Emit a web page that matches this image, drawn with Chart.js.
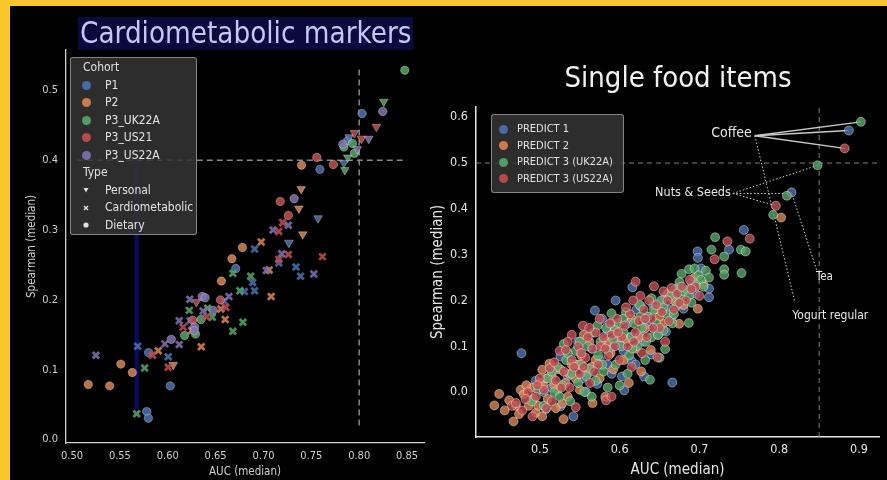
<!DOCTYPE html>
<html lang="en">
<head>
<meta charset="UTF-8">
<title>Cardiometabolic markers / Single food items</title>
<script src="https://cdn.jsdelivr.net/npm/chart.js"></script>
<style>
  body { margin: 0; width: 887px; height: 480px; background: #f9c62c; position: relative; overflow: hidden;
         font-family: 'DejaVu Sans Condensed', 'DejaVu Sans', sans-serif; }
  #panel { position: absolute; left: 10px; top: 6px; width: 877px; height: 474px; background: #000; }
  canvas { position: absolute; top: 0; }
  #leftChart { left: 10px; }
  #rightChart { left: 428px; }
  #leftTitle { position: absolute; left: 78px; top: 17px; height: 33px; line-height: 33px; padding: 0 2px;
               font-size: 29.3px; color: #c6c6f4; background: #0a0a3e; white-space: nowrap; }
  #rightTitle { position: absolute; left: 478px; top: 60px; width: 400px; text-align: center; line-height: 34px;
                font-size: 29px; color: #f2f2f2; white-space: nowrap; }
  .legend { position: absolute; box-sizing: border-box; background: rgba(52,52,52,0.86);
            border: 1px solid rgba(180,180,180,0.65); border-radius: 3px; color: #e2e2e2; }
  #leftLegend { left: 70px; top: 57px; width: 127px; height: 178px; padding-top: 1px; font-size: 12px; }
  #leftLegend .row { height: 17.5px; line-height: 17.5px; display: flex; align-items: center; }
  #leftLegend .head { padding-left: 12px; }
  #leftLegend .mk { width: 10px; height: 10px; margin-left: 10px; margin-right: 14px; display: flex; align-items: center; justify-content: center; }
  #rightLegend { left: 491px; top: 114px; width: 133px; height: 79px; padding-top: 6px; font-size: 11px; }
  #rightLegend .row { height: 16.5px; line-height: 16.5px; display: flex; align-items: center; }
  #rightLegend .mk { width: 10px; height: 10px; margin-left: 6px; margin-right: 9px; display: flex; align-items: center; justify-content: center; }
  .dot { width: 9px; height: 9px; border-radius: 50%; }
</style>
</head>
<body>
<div id="panel"></div>
<canvas id="leftChart" width="418" height="480"></canvas>
<canvas id="rightChart" width="459" height="480"></canvas>
<div id="leftTitle">Cardiometabolic markers</div>
<div id="rightTitle">Single food items</div>
<div id="leftLegend" class="legend"></div>
<div id="rightLegend" class="legend"></div>

<script>
// ---------- Cardiometabolic markers: [AUC, Spearman] ----------
const cohorts = ['P1', 'P2', 'P3_UK22A', 'P3_US21', 'P3_US22A'];
const markerTypes = ['Personal', 'Cardiometabolic', 'Dietary'];

const p1Personal = [[0.7895,0.433],[0.784,0.396],[0.757,0.317],[0.7265,0.282]];
const p1Cardio = [[0.6907,0.273],[0.716,0.253],[0.734,0.247],[0.7387,0.234],[0.6886,0.225],[0.680,0.212],
  [0.6907,0.213],[0.659,0.198],[0.623,0.170],[0.5686,0.1335],[0.6005,0.1187]];
const p1Dietary = [[0.803,0.467],[0.788,0.428],[0.759,0.387],[0.671,0.245],[0.580,0.1245],[0.6026,0.0768],
  [0.578,0.040],[0.5797,0.0305]];

const p2Personal = [[0.7394,0.359],[0.737,0.331],[0.741,0.294],[0.6058,0.107]];
const p2Cardio = [[0.6976,0.283],[0.706,0.243],[0.708,0.205],[0.6555,0.187],[0.660,0.172],[0.625,0.156],
  [0.635,0.133],[0.590,0.127]];
const p2Dietary = [[0.7398,0.393],[0.678,0.275],[0.667,0.259],[0.656,0.227],[0.551,0.108],[0.563,0.096],
  [0.517,0.0787],[0.5393,0.0768]];

const uk22aPersonal = [[0.8257,0.484],[0.788,0.404],[0.785,0.386]];
const uk22aCardio = [[0.668,0.238],[0.6866,0.234],[0.6754,0.213],[0.6416,0.188],[0.6465,0.175],[0.6785,0.168],
  [0.6225,0.185],[0.668,0.155],[0.5759,0.1025],[0.5675,0.037]];
const uk22aDietary = [[0.8476,0.529],[0.793,0.424],[0.784,0.419],[0.795,0.410],[0.6347,0.172],[0.629,0.151],
  [0.6176,0.149]];

const us21Personal = [[0.818,0.448],[0.795,0.439],[0.8024,0.431],[0.630,0.197]];
const us21Cardio = [[0.720,0.311],[0.716,0.298],[0.7616,0.262],[0.726,0.265],[0.716,0.258],[0.6608,0.189],
  [0.6406,0.176],[0.616,0.161],[0.584,0.1206],[0.6005,0.1034]];
const us21Dietary = [[0.7557,0.404],[0.773,0.394],[0.7175,0.341],[0.726,0.321],[0.655,0.200],[0.626,0.171]];

const us22aPersonal = [[0.810,0.431],[0.798,0.416]];
const us22aCardio = [[0.726,0.307],[0.710,0.300],[0.719,0.266],[0.703,0.242],[0.7526,0.237],[0.6639,0.205],
  [0.623,0.201],[0.637,0.184],[0.612,0.170],[0.597,0.137],[0.612,0.136],[0.525,0.1206]];
const us22aDietary = [[0.8246,0.470],[0.783,0.423],[0.732,0.345],[0.636,0.205],[0.639,0.203],[0.6475,0.185],
  [0.628,0.161],[0.6277,0.156],[0.6037,0.1435]];

const cardioXTicks = [0.50, 0.55, 0.60, 0.65, 0.70, 0.75, 0.80, 0.85];
const cardioYTicks = [0.0, 0.1, 0.2, 0.3, 0.4, 0.5];
const cardioHLine = [[0.505, 0.4], [0.85, 0.4]];
const cardioVLine = [[0.8, 0.02], [0.8, 0.535]];
const cardioHighlight = [[0.5675, 0.043], [0.5675, 0.4]];

// ---------- Single food items: [AUC, Spearman] ----------
const foodSeries = ['PREDICT 1', 'PREDICT 2', 'PREDICT 3 (UK22A)', 'PREDICT 3 (US22A)'];

const predict1 = [[0.477,0.085],[0.495,0.025],[0.5075,-0.037],[0.526,-0.031],[0.542,-0.053],[0.526,0.078],
  [0.5505,0.087],[0.5576,0.001],[0.515,0.010],[0.535,0.035],[0.545,0.060],[0.560,0.040],[0.565,0.095],
  [0.572,0.018],[0.580,0.115],[0.585,0.060],[0.590,0.040],[0.569,0.178],[0.578,0.160],[0.589,0.151],
  [0.595,0.200],[0.597,0.130],[0.603,0.034],[0.6057,0.004],[0.605,0.090],[0.610,0.150],[0.615,0.067],
  [0.616,0.229],[0.620,0.060],[0.621,0.180],[0.6266,0.187],[0.630,0.110],[0.6307,0.034],[0.635,0.165],
  [0.640,0.082],[0.645,0.140],[0.648,0.125],[0.652,0.195],[0.657,0.207],[0.658,0.132],[0.665,0.160],
  [0.666,0.021],[0.670,0.205],[0.680,0.182],[0.690,0.240],[0.6976,0.307],[0.698,0.293],[0.702,0.270],
  [0.712,0.207],[0.712,0.226],[0.737,0.311],[0.7556,0.354],[0.8154,0.436],[0.8872,0.571],[0.548,0.110],
  [0.538,0.070],[0.600,0.105],[0.625,0.125],[0.505,0.000],[0.520,0.050],[0.553,0.030],[0.575,0.070],
  [0.592,0.100],[0.612,0.120],[0.633,0.150],[0.662,0.180],[0.675,0.230],[0.695,0.215],[0.585,0.135],
  [0.642,0.190]];
const predict2 = [[0.443,-0.029],[0.449,-0.004],[0.4616,-0.018],[0.467,-0.064],[0.474,-0.048],[0.476,0.005],
  [0.480,-0.005],[0.486,-0.030],[0.490,0.010],[0.495,-0.045],[0.500,0.020],[0.503,-0.053],[0.503,0.049],
  [0.504,0.016],[0.510,-0.015],[0.515,0.035],[0.520,-0.035],[0.522,0.005],[0.526,0.049],[0.5297,-0.059],
  [0.532,0.020],[0.535,-0.010],[0.540,0.060],[0.545,0.030],[0.550,0.005],[0.552,0.080],[0.558,0.045],
  [0.562,0.110],[0.566,-0.024],[0.570,0.070],[0.575,0.030],[0.578,0.100],[0.582,-0.010],[0.5886,0.085],
  [0.592,0.050],[0.594,0.138],[0.600,0.120],[0.605,0.070],[0.609,0.115],[0.6115,0.020],[0.615,0.160],
  [0.620,0.095],[0.627,0.045],[0.632,0.140],[0.639,0.092],[0.645,0.180],[0.655,0.150],[0.660,0.215],
  [0.6746,0.149],[0.680,0.190],[0.694,0.250],[0.698,0.182],[0.705,0.235],[0.8024,0.381],[0.512,0.062],
  [0.528,-0.025],[0.555,0.125],[0.456,-0.040],[0.470,-0.030],[0.483,0.015],[0.492,-0.015],[0.498,-0.030],
  [0.508,0.030],[0.518,0.015],[0.537,0.040],[0.548,0.060],[0.565,0.055],[0.585,0.110],[0.625,0.120],
  [0.650,0.165],[0.668,0.200]];
const predict3Uk = [[0.490,-0.020],[0.498,0.005],[0.505,-0.030],[0.510,0.030],[0.518,0.000],[0.522,0.055],
  [0.528,0.015],[0.533,0.070],[0.538,-0.020],[0.540,0.040],[0.545,0.090],[0.548,0.020],[0.552,0.060],
  [0.556,0.000],[0.560,0.100],[0.563,0.050],[0.567,0.130],[0.570,0.025],[0.573,0.080],[0.576,0.110],
  [0.580,0.045],[0.583,0.140],[0.586,0.090],[0.5898,0.172],[0.592,0.115],[0.595,0.060],[0.598,0.150],
  [0.600,0.0145],[0.602,0.100],[0.605,0.130],[0.608,0.175],[0.612,0.080],[0.615,0.120],[0.618,0.150],
  [0.622,0.100],[0.625,0.190],[0.628,0.140],[0.632,0.070],[0.635,0.165],[0.638,0.027],[0.640,0.120],
  [0.643,0.180],[0.646,0.150],[0.650,0.075],[0.652,0.200],[0.655,0.135],[0.657,0.094],[0.660,0.170],
  [0.663,0.210],[0.666,0.150],[0.670,0.225],[0.672,0.190],[0.676,0.205],[0.6776,0.258],[0.680,0.220],
  [0.685,0.223],[0.6867,0.151],[0.687,0.210],[0.687,0.268],[0.694,0.270],[0.699,0.255],[0.702,0.245],
  [0.705,0.230],[0.7196,0.338],[0.715,0.311],[0.731,0.296],[0.731,0.268],[0.731,0.256],[0.7527,0.260],
  [0.7519,0.311],[0.758,0.307],[0.7924,0.387],[0.8095,0.4286],[0.848,0.495],[0.9023,0.590],[0.565,-0.010],
  [0.585,0.010],[0.610,0.040],[0.530,0.105],[0.690,0.195],[0.515,0.045],[0.525,-0.010],[0.535,0.085],
  [0.550,0.110],[0.558,0.035],[0.572,0.145],[0.578,0.060],[0.594,0.135],[0.604,0.160],[0.616,0.095],
  [0.626,0.165],[0.633,0.110],[0.648,0.125],[0.655,0.185],[0.668,0.170],[0.675,0.240],[0.695,0.235],
  [0.708,0.265],[0.712,0.250],[0.640,0.205]];
const predict3Us = [[0.465,-0.030],[0.470,-0.024],[0.478,-0.040],[0.4908,-0.053],[0.485,0.000],[0.495,-0.010],
  [0.500,0.030],[0.505,0.005],[0.5125,0.052],[0.515,-0.020],[0.520,0.025],[0.525,0.090],[0.530,0.045],
  [0.5326,0.092],[0.537,0.010],[0.540,0.070],[0.545,-0.033],[0.548,0.100],[0.550,0.040],[0.554,0.145],
  [0.557,0.075],[0.560,0.120],[0.563,0.020],[0.566,0.095],[0.570,0.130],[0.573,0.060],[0.576,0.100],
  [0.580,0.120],[0.583,-0.018],[0.586,0.080],[0.5898,-0.010],[0.590,0.125],[0.594,0.100],[0.597,0.160],
  [0.600,0.070],[0.603,0.120],[0.606,0.145],[0.610,0.100],[0.613,0.170],[0.617,0.200],[0.620,0.241],
  [0.620,0.130],[0.624,0.155],[0.628,0.085],[0.630,0.180],[0.634,0.120],[0.637,0.200],[0.640,0.160],
  [0.643,0.231],[0.646,0.190],[0.6475,0.076],[0.650,0.140],[0.653,0.175],[0.657,0.110],[0.660,0.200],
  [0.665,0.227],[0.668,0.180],[0.672,0.215],[0.678,0.230],[0.683,0.200],[0.688,0.245],[0.695,0.230],
  [0.700,0.210],[0.719,0.290],[0.735,0.329],[0.763,0.335],[0.7957,0.4068],[0.882,0.532],[0.555,0.055],
  [0.575,0.160],[0.540,0.125],[0.615,0.055],[0.482,-0.015],[0.497,0.015],[0.508,-0.035],[0.518,0.065],
  [0.527,0.010],[0.535,0.110],[0.543,0.055],[0.552,0.085],[0.562,0.140],[0.568,0.045],[0.582,0.095],
  [0.588,0.150],[0.598,0.130],[0.608,0.185],[0.618,0.110],[0.626,0.210],[0.632,0.160],[0.642,0.140],
  [0.655,0.220],[0.662,0.155],[0.675,0.195],[0.690,0.225]];

const foodXTicks = [0.5, 0.6, 0.7, 0.8, 0.9];
const foodYTicks = [0.0, 0.1, 0.2, 0.3, 0.4, 0.5, 0.6];
const foodHLine = [[0.42, 0.5], [0.925, 0.5]];
const foodVLine = [[0.85, -0.098], [0.85, 0.623]];

// annotated foods: label text, label anchor, connector ends
const foodLabels = ['Coffee', 'Nuts & Seeds', 'Tea', 'Yogurt regular'];
const foodLabelAnchors = [[0.7657, 0.564], [0.7393, 0.435], [0.8459, 0.252], [0.8164, 0.1655]];
const coffeeLinks = [[[0.7694, 0.5596], [0.9023, 0.590]], [[0.7694, 0.5596], [0.8872, 0.571]],
  [[0.7694, 0.5596], [0.882, 0.532]]];
const dottedLinks = [[[0.7694, 0.5596], [0.8195, 0.197]], [[0.7419, 0.4336], [0.848, 0.495]],
  [[0.7419, 0.4336], [0.8095, 0.4336]], [[0.7419, 0.4336], [0.7957, 0.4068]], [[0.8467, 0.267], [0.8154, 0.436]]];

// ---------- styling ----------
const FONT = "'DejaVu Sans Condensed', 'DejaVu Sans', sans-serif";
const cohortRgb = ['76,114,176', '221,132,82', '85,168,104', '196,78,82', '129,114,179'];
const foodRgb = ['76,114,176', '221,132,82', '85,168,104', '196,78,82'];
const toPts = arr => arr.map(p => ({x: p[0], y: p[1]}));

function refLine(pairs, color, dash, width, order) {
  return {type: 'line', data: toPts(pairs), borderColor: color, borderDash: dash, borderWidth: width,
          pointRadius: 0, fill: false, order: order, clip: false};
}

// left chart datasets
const cardioGroups = [
  [p1Personal, p1Cardio, p1Dietary],
  [p2Personal, p2Cardio, p2Dietary],
  [uk22aPersonal, uk22aCardio, uk22aDietary],
  [us21Personal, us21Cardio, us21Dietary],
  [us22aPersonal, us22aCardio, us22aDietary],
];
const cardioDatasets = [
  refLine(cardioHighlight, '#0b0b5a', [], 4.5, 20),
  refLine(cardioHLine, 'rgba(150,150,150,0.9)', [6, 4], 1.5, 19),
  refLine(cardioVLine, 'rgba(150,150,150,0.9)', [6, 4], 1.5, 19),
];
cardioGroups.forEach((group, c) => {
  const rgb = cohortRgb[c];
  group.forEach((pts, t) => {
    const ds = {label: cohorts[c] + ' ' + markerTypes[t], data: toPts(pts), order: 5 - c};
    if (t === 0) Object.assign(ds, {pointStyle: 'triangle', rotation: 180, pointRadius: 5,
      backgroundColor: `rgba(${rgb},0.85)`, borderColor: 'rgba(255,255,255,0.45)', borderWidth: 0.7});
    if (t === 1) Object.assign(ds, {pointStyle: 'crossRot', pointRadius: 4.6,
      borderColor: `rgba(${rgb},0.85)`, borderWidth: 2.8});
    if (t === 2) Object.assign(ds, {pointStyle: 'circle', pointRadius: 4.2,
      backgroundColor: `rgba(${rgb},0.85)`, borderColor: 'rgba(255,255,255,0.45)', borderWidth: 0.7});
    cardioDatasets.push(ds);
  });
});

new Chart(document.getElementById('leftChart'), {
  type: 'scatter',
  data: {datasets: cardioDatasets},
  options: {
    responsive: false, animation: false, events: [],
    layout: {padding: {left: 0, top: 50, right: 4, bottom: 0}, autoPadding: false},
    plugins: {legend: {display: false}, tooltip: {enabled: false}},
    scales: {
      x: {
        type: 'linear', min: 0.4937, max: 0.8677,
        afterBuildTicks: s => { s.ticks = cardioXTicks.map(v => ({value: v})); },
        afterFit: s => { s.height = 37; },
        grid: {display: false, drawTicks: false},
        border: {display: true, color: '#cfcfcf', width: 1.3},
        ticks: {color: '#cfcfcf', font: {family: FONT, size: 11}, padding: 7, callback: v => v.toFixed(2)},
        title: {display: true, text: 'AUC (median)', color: '#cfcfcf', font: {family: FONT, size: 11.5},
                padding: {top: 0, bottom: 1}}
      },
      y: {
        type: 'linear', min: -0.005, max: 0.558,
        afterBuildTicks: s => { s.ticks = cardioYTicks.map(v => ({value: v})); },
        afterFit: s => { s.width = 56; },
        grid: {display: false, drawTicks: false},
        border: {display: true, color: '#cfcfcf', width: 1.3},
        ticks: {color: '#cfcfcf', font: {family: FONT, size: 11}, padding: 8, callback: v => v.toFixed(1)},
        title: {display: true, text: 'Spearman (median)', color: '#cfcfcf', font: {family: FONT, size: 11.5},
                padding: {top: 15, bottom: 0}}
      }
    }
  }
});

// right chart datasets
const foodGroups = [predict1, predict2, predict3Uk, predict3Us];
const foodDatasets = [
  refLine(foodHLine, 'rgba(140,140,140,0.9)', [5, 4], 1, 19),
  refLine(foodVLine, 'rgba(140,140,140,0.9)', [5, 4], 1, 19),
];
coffeeLinks.forEach(l => foodDatasets.push(refLine(l, '#c8c8c8', [], 1.3, 10)));
dottedLinks.forEach(l => foodDatasets.push(refLine(l, '#d0d0d0', [1.5, 2], 1, 10)));
foodGroups.forEach((pts, i) => {
  foodDatasets.push({label: foodSeries[i], data: toPts(pts), order: 5 - i, pointStyle: 'circle', pointRadius: 4.5,
    backgroundColor: `rgba(${foodRgb[i]},0.8)`, borderColor: 'rgba(255,255,255,0.5)', borderWidth: 0.8});
});

const labelStyle = [
  {size: 14, align: 'right'}, {size: 12.5, align: 'right'}, {size: 11.5, align: 'left'}, {size: 12, align: 'left'}
];
const foodLabelPlugin = {
  id: 'foodLabels',
  afterDatasetsDraw(chart) {
    const {ctx, scales: {x, y}} = chart;
    ctx.save();
    ctx.fillStyle = '#e8e8e8';
    ctx.textBaseline = 'middle';
    foodLabels.forEach((t, i) => {
      ctx.font = labelStyle[i].size + 'px ' + FONT;
      ctx.textAlign = labelStyle[i].align;
      ctx.fillText(t, x.getPixelForValue(foodLabelAnchors[i][0]), y.getPixelForValue(foodLabelAnchors[i][1]));
    });
    ctx.restore();
  }
};

new Chart(document.getElementById('rightChart'), {
  type: 'scatter',
  data: {datasets: foodDatasets},
  plugins: [foodLabelPlugin],
  options: {
    responsive: false, animation: false, events: [],
    layout: {padding: {left: 0, top: 106.7, right: 8, bottom: 0}, autoPadding: false},
    plugins: {legend: {display: false}, tooltip: {enabled: false}},
    scales: {
      x: {
        type: 'linear', min: 0.42, max: 0.925,
        afterBuildTicks: s => { s.ticks = foodXTicks.map(v => ({value: v})); },
        afterFit: s => { s.height = 43; },
        grid: {display: false, drawTicks: false},
        border: {display: true, color: '#e6e6e6', width: 1.5},
        ticks: {color: '#e6e6e6', font: {family: FONT, size: 12.5}, padding: 5, callback: v => v.toFixed(1)},
        title: {display: true, text: 'AUC (median)', color: '#e6e6e6', font: {family: FONT, size: 15},
                padding: {top: 0, bottom: 1}}
      },
      y: {
        type: 'linear', min: -0.098, max: 0.623,
        afterBuildTicks: s => { s.ticks = foodYTicks.map(v => ({value: v})); },
        afterFit: s => { s.width = 48; },
        grid: {display: false, drawTicks: false},
        border: {display: true, color: '#e6e6e6', width: 1.5},
        ticks: {color: '#e6e6e6', font: {family: FONT, size: 12.5}, padding: 8, callback: v => v.toFixed(1)},
        title: {display: true, text: 'Spearman (median)', color: '#e6e6e6', font: {family: FONT, size: 15},
                padding: {top: 1, bottom: 0}}
      }
    }
  }
});

// ---------- HTML legends ----------
const typeIcons = [
  '<svg width="10" height="10"><polygon points="2.5,3 7.5,3 5,7.5" fill="#e0e0e0"/></svg>',
  '<svg width="10" height="10"><path d="M3,3 L7,7 M7,3 L3,7" stroke="#e0e0e0" stroke-width="1.4"/></svg>',
  '<svg width="10" height="10"><circle cx="5" cy="5" r="2.6" fill="#e0e0e0"/></svg>'
];
let leftHtml = '<div class="row head">Cohort</div>';
cohorts.forEach((c, i) => {
  leftHtml += `<div class="row"><span class="mk"><span class="dot" style="background:rgba(${cohortRgb[i]},0.9)"></span></span>${c}</div>`;
});
leftHtml += '<div class="row head">Type</div>';
markerTypes.forEach((t, i) => {
  leftHtml += `<div class="row"><span class="mk">${typeIcons[i]}</span>${t}</div>`;
});
document.getElementById('leftLegend').innerHTML = leftHtml;

let rightHtml = '';
foodSeries.forEach((s, i) => {
  rightHtml += `<div class="row"><span class="mk"><span class="dot" style="background:rgba(${foodRgb[i]},0.9)"></span></span>${s}</div>`;
});
document.getElementById('rightLegend').innerHTML = rightHtml;
</script>
</body>
</html>
